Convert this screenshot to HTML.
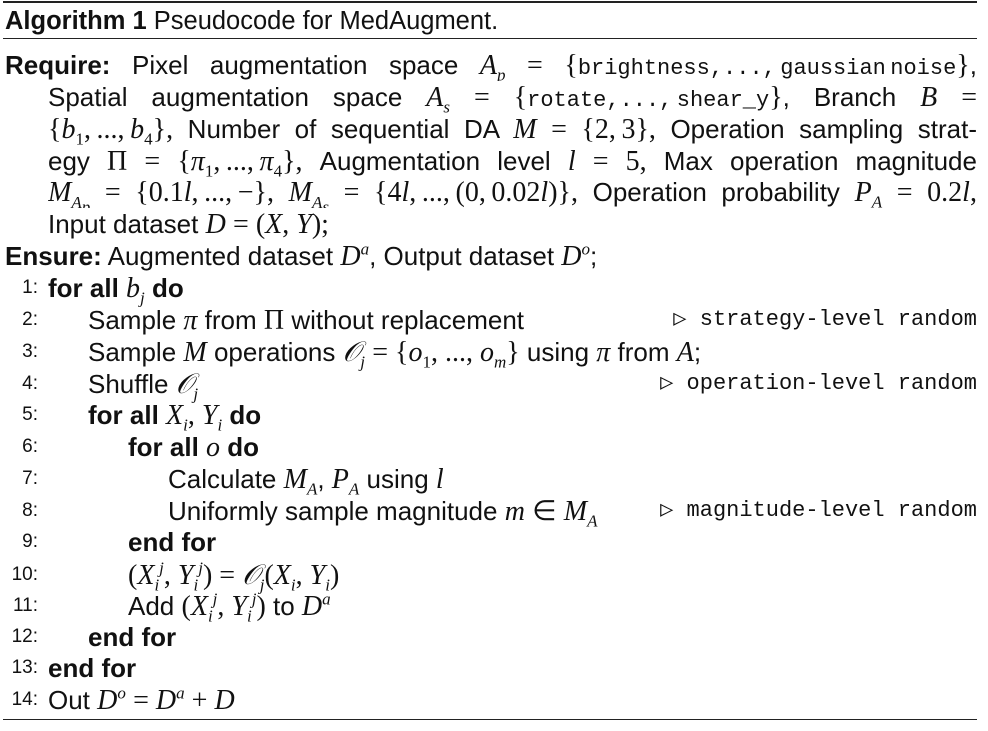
<!DOCTYPE html>
<html><head><meta charset="utf-8"><style>
body{margin:0;width:988px;height:731px;background:#fff;position:relative;overflow:hidden;font-family:"Liberation Sans",sans-serif;color:#111;}
.rule{position:absolute;left:3px;width:974px;background:#222;}
.ln{position:absolute;height:32px;line-height:32px;font-size:26px;white-space:nowrap;}
.j{text-align:justify;text-align-last:justify;white-space:normal;overflow:hidden;}
.n{position:absolute;left:0;width:38px;text-align:right;font-size:19px;height:32px;line-height:32px;}
.m{font-family:"Liberation Serif",serif;font-style:italic;font-size:28px;}
.r{font-family:"Liberation Serif",serif;font-size:28px;}
.ib{display:inline-block;white-space:nowrap;}
.tt{font-family:"Liberation Mono",monospace;font-size:22px;}
.c{position:absolute;right:11px;height:32px;line-height:32px;white-space:nowrap;}
b{font-weight:bold;}
sub,sup{font-size:17px;line-height:0;}
</style></head><body>
<div class="rule" style="top:1px;height:2px"></div>
<div class="ln" style="top:5px;left:5px;font-size:25.5px"><b>Algorithm 1</b> Pseudocode for MedAugment.</div>
<div class="rule" style="top:38px;height:1px"></div>

<div class="ln j" style="top:49px;left:5px;width:972px"><b>Require:</b> Pixel augmentation space <span class="ib m">A<sub>p</sub></span> <span class="r">=</span> <span class="ib"><span class="r">{</span><span class="tt">brightness,...,&#8201;gaussian&#8201;noise</span><span class="r">}</span>,</span></div>
<div class="ln j" style="top:81px;left:48px;width:929px">Spatial augmentation space <span class="ib m">A<sub>s</sub></span> <span class="r">=</span> <span class="ib"><span class="r">{</span><span class="tt">rotate,...,&#8201;shear_y</span><span class="r">}</span>,</span> Branch <span class="m">B</span> <span class="r">=</span></div>
<div class="ln j" style="top:113px;left:48px;width:929px"><span class="ib r">{<i>b</i><sub>1</sub>,&#8201;...,&#8201;<i>b</i><sub>4</sub>},</span> Number of sequential DA <span class="m">M</span> <span class="r">=</span> <span class="ib r">{2,&#8201;3},</span> Operation sampling strat-</div>
<div class="ln j" style="top:145px;left:48px;width:929px">egy <span class="r">Π</span> <span class="r">=</span> <span class="ib r">{<i>π</i><sub>1</sub>,&#8201;...,&#8201;<i>π</i><sub>4</sub>},</span> Augmentation level <span class="m">l</span> <span class="r">=</span> <span class="r">5,</span> Max operation magnitude</div>
<div class="ln j" style="top:176px;left:48px;width:929px"><span class="ib m">M<sub>A<sub>p</sub></sub></span> <span class="r">=</span> <span class="ib r">{0.1<i>l</i>,&#8201;...,&#8201;−},</span> <span class="ib m">M<sub>A<sub>s</sub></sub></span> <span class="r">=</span> <span class="ib r">{4<i>l</i>,&#8201;...,&#8201;(0,&#8201;0.02<i>l</i>)},</span> Operation probability <span class="ib m">P<sub>A</sub></span> <span class="r">=</span> <span class="ib r">0.2<i>l</i>,</span></div>
<div class="ln" style="top:208px;left:48px">Input dataset <span class="m">D</span> <span class="r">= (<i>X</i>, <i>Y</i>);</span></div>
<div class="ln" style="top:240px;left:5px"><b>Ensure:</b> Augmented dataset <span class="m">D<sup>a</sup></span>, Output dataset <span class="m">D<sup>o</sup></span>;</div>

<div class="n" style="top:272px">1:</div>
<div class="ln" style="top:272px;left:48px"><b>for all</b> <span class="m">b<sub>j</sub></span> <b>do</b></div>
<div class="n" style="top:304px">2:</div>
<div class="ln" style="top:304px;left:88px">Sample <span class="m">π</span> from <span class="r">Π</span> without replacement</div>
<div class="c tt" style="top:304px">▷ strategy-level random</div>
<div class="n" style="top:336px">3:</div>
<div class="ln" style="top:336px;left:88px">Sample <span class="m">M</span> operations <span class="m">𝒪<sub>j</sub></span> <span class="r">= {<i>o</i><sub>1</sub>, ..., <i>o<sub>m</sub></i>}</span> using <span class="m">π</span> from <span class="m">A</span>;</div>
<div class="n" style="top:368px">4:</div>
<div class="ln" style="top:368px;left:88px">Shuffle <span class="m">𝒪<sub>j</sub></span></div>
<div class="c tt" style="top:368px">▷ operation-level random</div>
<div class="n" style="top:399px">5:</div>
<div class="ln" style="top:399px;left:88px"><b>for all</b> <span class="m">X<sub>i</sub></span><span class="r">, </span><span class="m">Y<sub>i</sub></span> <b>do</b></div>
<div class="n" style="top:431px">6:</div>
<div class="ln" style="top:431px;left:128px"><b>for all</b> <span class="m">o</span> <b>do</b></div>
<div class="n" style="top:463px">7:</div>
<div class="ln" style="top:463px;left:168px">Calculate <span class="m">M<sub>A</sub></span>, <span class="m">P<sub>A</sub></span> using <span class="m">l</span></div>
<div class="n" style="top:495px">8:</div>
<div class="ln" style="top:495px;left:168px">Uniformly sample magnitude <span class="m">m</span> <span class="r">∈</span> <span class="m">M<sub>A</sub></span></div>
<div class="c tt" style="top:495px">▷ magnitude-level random</div>
<div class="n" style="top:526px">9:</div>
<div class="ln" style="top:526px;left:128px"><b>end for</b></div>
<div class="n" style="top:559px">10:</div>
<div class="ln" style="top:559px;left:128px"><span class="r">(<i>X<sub>i</sub><sup>j</sup></i>, <i>Y<sub>i</sub><sup>j</sup></i>) = <i>𝒪<sub>j</sub></i>(<i>X<sub>i</sub></i>, <i>Y<sub>i</sub></i>)</span></div>
<div class="n" style="top:590px">11:</div>
<div class="ln" style="top:590px;left:128px">Add <span class="r">(<i>X<sub>i</sub><sup>j</sup></i>, <i>Y<sub>i</sub><sup>j</sup></i>)</span> to <span class="m">D<sup>a</sup></span></div>
<div class="n" style="top:621px">12:</div>
<div class="ln" style="top:621px;left:88px"><b>end for</b></div>
<div class="n" style="top:652px">13:</div>
<div class="ln" style="top:652px;left:48px"><b>end for</b></div>
<div class="n" style="top:684px">14:</div>
<div class="ln" style="top:684px;left:48px">Out <span class="m">D<sup>o</sup></span> <span class="r">= <i>D<sup>a</sup></i> + <i>D</i></span></div>
<div class="rule" style="top:719px;height:1px"></div>
</body></html>
